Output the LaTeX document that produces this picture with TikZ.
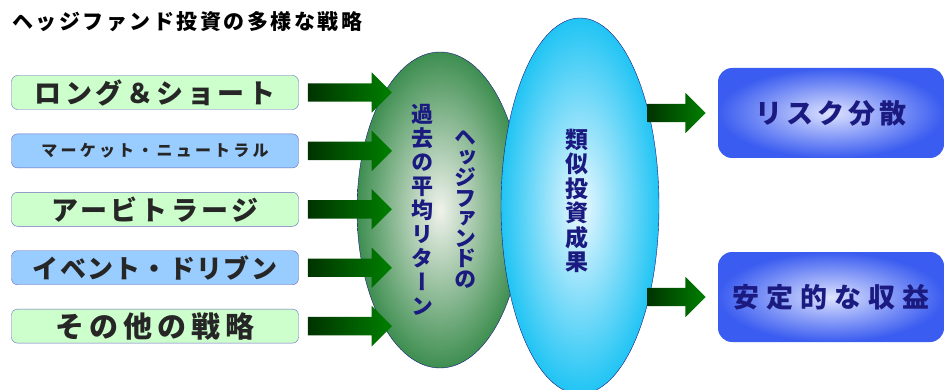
\documentclass[tikz,border=0pt]{standalone}
\usepackage{fontspec}
\setmainfont{Noto Sans CJK JP}
\newfontfamily\jpvert{Noto Sans CJK JP}[RawFeature=+vert]
\definecolor{stratgreen}{HTML}{CCFFCC}
\definecolor{stratblue}{HTML}{99CCFF}
\definecolor{stratedge}{HTML}{6A6AC0}
\definecolor{arrowdark}{HTML}{003300}
\definecolor{arrowlight}{HTML}{008000}
\definecolor{pastouter}{HTML}{3E8E50}
\definecolor{pastinner}{HTML}{F0F2EC}
\definecolor{simouter}{HTML}{20C4F4}
\definecolor{siminner}{HTML}{ECF8FF}
\definecolor{goalouter}{HTML}{3A5CF0}
\definecolor{goalinner}{HTML}{DDE2FF}
\definecolor{inkblue}{HTML}{1A1A80}
\usepackage{tikz}
\usetikzlibrary{shapes.geometric,shapes.arrows,positioning}

\newcommand{\spaced}[3]{\fontsize{#1}{#1}\selectfont\addfontfeature{LetterSpace=#2}#3}

\begin{document}
\begin{tikzpicture}[x=1pt, y=-1pt,
  stratbox/.style={draw=stratedge, rounded corners=6pt, minimum width=287pt,
    minimum height=34pt, inner sep=0pt, text=black!85, font=\bfseries},
  greenbox/.style={stratbox, fill=stratgreen},
  bluebox/.style={stratbox, fill=stratblue},
  fatarrow/.style={single arrow, inner xsep=0pt, inner ysep=9pt, minimum width=40pt,
    single arrow head extend=11pt, left color=arrowdark, right color=arrowlight},
  goalbox/.style={rounded corners=14pt, minimum width=226pt, minimum height=90pt,
    inner color=goalinner, outer color=goalouter, text=inkblue, font=\bfseries},
  vtext/.style={align=center, text=inkblue, inner sep=0pt}]
  \useasboundingbox (0,0) rectangle (944,390);

  % Title
  \node[anchor=west, font=\bfseries, inner sep=0pt] (title) at (12,22)
    {\spaced{21}{12}{ヘッジファンド投資の多様な戦略}};

  % Strategy boxes
  \node[greenbox] (longshort) at (155,92.5) {\spaced{27}{13}{ロング＆ショート}};
  \node[bluebox, below=24pt of longshort] (neutral) {\spaced{16}{20}{マーケット・ニュートラル}};
  \node[greenbox, below=24pt of neutral] (arbitrage) {\spaced{27}{12}{アービトラージ}};
  \node[bluebox, below=24pt of arbitrage] (event) {\spaced{26}{5}{イベント・ドリブン}};
  \node[greenbox, below=24pt of event] (others) {\spaced{29}{17}{その他の戦略}};

  % Past returns
  \node[ellipse, draw=inkblue, thin, minimum width=166pt, minimum height=316pt,
    inner color=pastinner, outer color=pastouter] (past) at (440,210) {};
  \foreach \s in {longshort,neutral,arbitrage,event,others}
    \node[fatarrow, minimum height=84pt, right=9pt of \s] (in-\s) {};
  \node[vtext, font={\jpvert\bfseries\fontsize{22}{24}\selectfont}] (pastA) at (422,210)
    {過\\去\\の\\平\\均\\リ\\タ\\ー\\ン};
  \node[vtext, font={\jpvert\bfseries\fontsize{22}{20.3}\selectfont}] (pastB) at (465,209)
    {ヘ\\ッ\\ジ\\フ\\ァ\\ン\\ド\\の};

  % Similar results
  \node[ellipse, draw=inkblue, thin, minimum width=158pt, minimum height=376pt,
    inner color=siminner, outer color=simouter] (similar) at (580,206) {};
  \node[vtext, font={\jpvert\bfseries\fontsize{23}{24.5}\selectfont}] (simtext) at (577,201)
    {類\\似\\投\\資\\成\\果};

  % Outcomes
  \node[goalbox] (risk) at (831,113) {\spaced{27}{15}{リスク分散}};
  \node[goalbox] (stable) at (831,297) {\spaced{27}{26}{安定的な収益}};
  \node[fatarrow, minimum height=58pt, left=12pt of risk] (out-risk) {};
  \node[fatarrow, minimum height=58pt, left=12pt of stable] (out-stable) {};
\end{tikzpicture}
\end{document}
